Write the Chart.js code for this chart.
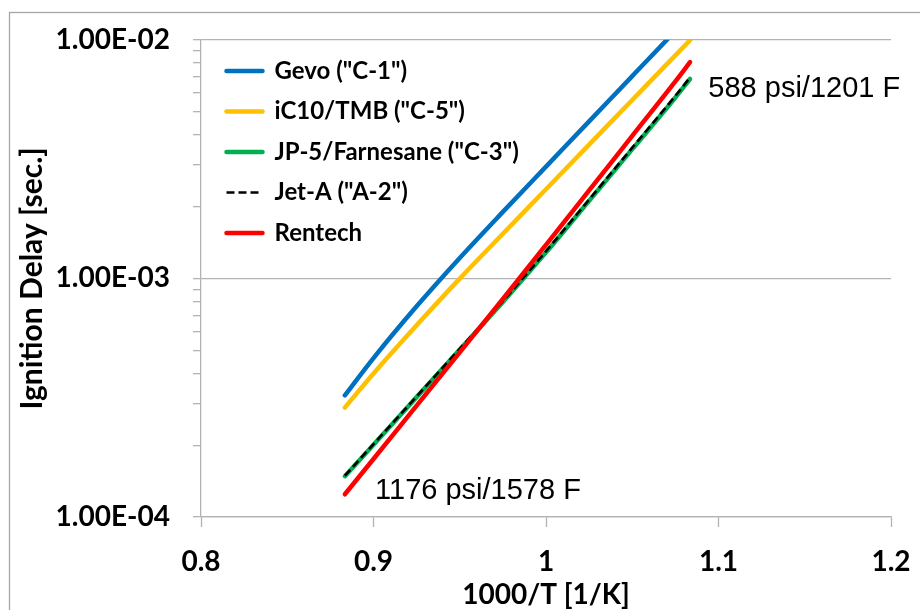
<!DOCTYPE html>
<html>
<head>
<meta charset="utf-8">
<title>Ignition Delay</title>
<script src="https://cdn.jsdelivr.net/npm/chart.js@4.4.1/dist/chart.umd.min.js"></script>
<style>
  html, body { margin: 0; padding: 0; background: #ffffff; }
  #wrap { width: 920px; height: 610px; position: relative; }
</style>
</head>
<body>
<div id="wrap"><canvas id="chart"></canvas></div>
<script>
// 1000/T [1/K] sample positions (1578 F ... 1201 F)
const xValues = [0.8834, 0.9, 0.925, 0.95, 0.975, 1.0, 1.025, 1.05, 1.075, 1.0835];

// Ignition delay [s] for each fuel at those positions
const gevo    = [3.236e-4, 4.637e-4, 7.64e-4, 1.218e-3, 1.900e-3, 2.941e-3, 4.553e-3, 7.046e-3, 1.091e-2, 1.273e-2];
const ic10    = [2.873e-4, 3.994e-4, 6.364e-4, 9.98e-4, 1.538e-3, 2.365e-3, 3.637e-3, 5.593e-3, 8.602e-3, 9.97e-3];
const jp5     = [1.483e-4, 2.01e-4, 3.18e-4, 5.03e-4, 7.96e-4, 1.285e-3, 2.117e-3, 3.48e-3, 5.73e-3, 6.85e-3];
const jetA    = [1.49e-4, 2.02e-4, 3.20e-4, 5.07e-4, 8.03e-4, 1.30e-3, 2.14e-3, 3.53e-3, 5.82e-3, 6.95e-3];
const rentech = [1.245e-4, 1.75e-4, 2.93e-4, 4.90e-4, 8.20e-4, 1.382e-3, 2.337e-3, 3.955e-3, 6.69e-3, 8.06e-3];

const seriesNames = ['Gevo ("C-1")', 'iC10/TMB ("C-5")', 'JP-5/Farnesane ("C-3")', 'Jet-A ("A-2")', 'Rentech'];

// Axis ticks
const xTickValues = [0.8, 0.9, 1.0, 1.1, 1.2];
const yMajorTicks = [1e-4, 1e-3, 1e-2];
const yTickLabels = ['1.00E-04', '1.00E-03', '1.00E-02'];

// Condition labels: text, x, y (data units)
const noteTexts = ['588 psi/1201 F', '1176 psi/1578 F'];
const noteX = [1.0941, 0.9009];
const noteY = [5.76e-3, 1.194e-4];

const GRID = '#b3b3b3';
const FONT = 'Lato';

// minor log ticks 2..9 inside each decade, plus the decade marks
const yAllTicks = [];
yMajorTicks.forEach((d, i) => {
  yAllTicks.push(d);
  if (i < yMajorTicks.length - 1) for (let m = 2; m <= 9; m++) yAllTicks.push(m * d);
});

const toPoints = ys => ys.map((y, i) => ({ x: xValues[i], y }));

const styles = [
  { color: '#0070c0', width: 4.5, dash: [], order: 4 },
  { color: '#ffc000', width: 4.5, dash: [], order: 3 },
  { color: '#00b050', width: 4.5, dash: [], order: 2 },
  { color: '#000000', width: 2.6, dash: [8, 4], order: 1 },
  { color: '#ff0000', width: 4.5, dash: [], order: 0 }
];
const seriesData = [gevo, ic10, jp5, jetA, rentech];

const datasets = seriesData.map((ys, i) => ({
  label: seriesNames[i],
  data: toPoints(ys),
  showLine: true,
  cubicInterpolationMode: 'monotone',
  borderColor: styles[i].color,
  backgroundColor: styles[i].color,
  borderWidth: styles[i].width,
  borderDash: styles[i].dash,
  borderCapStyle: styles[i].dash.length ? 'butt' : 'round',
  borderJoinStyle: 'round',
  pointRadius: 0,
  pointHoverRadius: 0,
  order: styles[i].order,
  clip: 0
}));

// thin frame around the whole chart object
const framePlugin = {
  id: 'frame',
  beforeDraw(chart) {
    const ctx = chart.ctx;
    ctx.save();
    ctx.strokeStyle = '#a6a6a6';
    ctx.lineWidth = 1.3;
    ctx.strokeRect(9.5, 12.5, 1000, 1000);
    ctx.restore();
  }
};

// pressure / temperature notes placed in data coordinates
const notesPlugin = {
  id: 'notes',
  afterDatasetsDraw(chart) {
    const { ctx, scales } = chart;
    ctx.save();
    ctx.fillStyle = '#000';
    ctx.font = '29px "Liberation Sans", Arial, sans-serif';
    ctx.textAlign = 'left';
    ctx.textBaseline = 'alphabetic';
    noteTexts.forEach((t, i) => {
      ctx.fillText(t, scales.x.getPixelForValue(noteX[i]), scales.y.getPixelForValue(noteY[i]));
    });
    ctx.restore();
  }
};

// legend sits in the upper-left corner of the plot
const legendPlace = {
  id: 'legendPlace',
  afterLayout(chart) {
    const lg = chart.legend;
    if (!lg) return;
    lg.left = 210; lg.right = 210 + 400;
    lg.top = 42.5; lg.bottom = 42.5 + 420;
  }
};

const isMajor = v => yMajorTicks.some(m => Math.abs(v - m) < m * 1e-6);

new Chart(document.getElementById('chart'), {
  type: 'scatter',
  data: { datasets },
  plugins: [framePlugin, notesPlugin, legendPlace],
  options: {
    responsive: true,
    maintainAspectRatio: false,
    animation: false,
    events: [],
    layout: { padding: { left: 0, top: 39, right: 29, bottom: 0 } },
    scales: {
      x: {
        type: 'linear',
        min: 0.8, max: 1.2,
        afterBuildTicks: s => { s.ticks = xTickValues.map(v => ({ value: v })); },
        afterFit: s => { s.height = 93; s.paddingLeft = 0; s.paddingRight = 0; },
        grid: { drawOnChartArea: false, drawTicks: true, tickLength: 10, tickColor: GRID, tickWidth: 1.3 },
        border: { display: true, color: GRID, width: 1.3 },
        ticks: {
          color: '#000', autoSkip: false, maxRotation: 0, padding: 18,
          font: { family: FONT, weight: 'bold', size: 28 },
          callback: v => String(Math.round(v * 10) / 10)
        },
        title: {
          display: true, text: '1000/T [1/K]', color: '#000',
          font: { family: FONT, weight: 'bold', size: 28, lineHeight: 1 },
          padding: { top: 0, bottom: 1 }
        }
      },
      y: {
        type: 'logarithmic',
        min: 1e-4, max: 1e-2,
        afterBuildTicks: s => { s.ticks = yAllTicks.map(v => ({ value: v, major: isMajor(v) })); },
        afterFit: s => { s.width = 201; },
        grid: {
          color: c => (c.tick && isMajor(c.tick.value)) ? GRID : 'rgba(0,0,0,0)',
          lineWidth: 1.3, drawTicks: true, tickLength: 8, tickColor: GRID, tickWidth: 1.3
        },
        border: { display: true, color: GRID, width: 1.3 },
        ticks: {
          color: '#000', autoSkip: false, padding: 23,
          font: { family: FONT, weight: 'bold', size: 28 },
          callback: v => { const i = yMajorTicks.findIndex(m => Math.abs(v - m) < m * 1e-6); return i >= 0 ? yTickLabels[i] : ''; }
        },
        title: {
          display: true, text: 'Ignition Delay [sec.]', color: '#000',
          font: { family: FONT, weight: 'bold', size: 30, lineHeight: 1.2 },
          padding: { top: 14, bottom: 0 }
        }
      }
    },
    plugins: {
      tooltip: { enabled: false },
      legend: {
        position: 'chartArea',
        align: 'start',
        labels: {
          usePointStyle: true,
          pointStyle: 'line',
          pointStyleWidth: 36,
          padding: 16.5,
          color: '#000',
          font: { family: FONT, weight: 'bold', size: 24 },
          sort: (a, b) => a.datasetIndex - b.datasetIndex,
          generateLabels: chart => {
            const items = Chart.defaults.plugins.legend.labels.generateLabels(chart);
            items.forEach(it => {
              const ds = chart.data.datasets[it.datasetIndex];
              it.lineWidth = ds.borderWidth;
              it.lineDash = ds.borderDash;
              it.lineCap = ds.borderCapStyle;
              it.strokeStyle = ds.borderColor;
            });
            return items;
          }
        }
      }
    }
  }
});
</script>
</body>
</html>
